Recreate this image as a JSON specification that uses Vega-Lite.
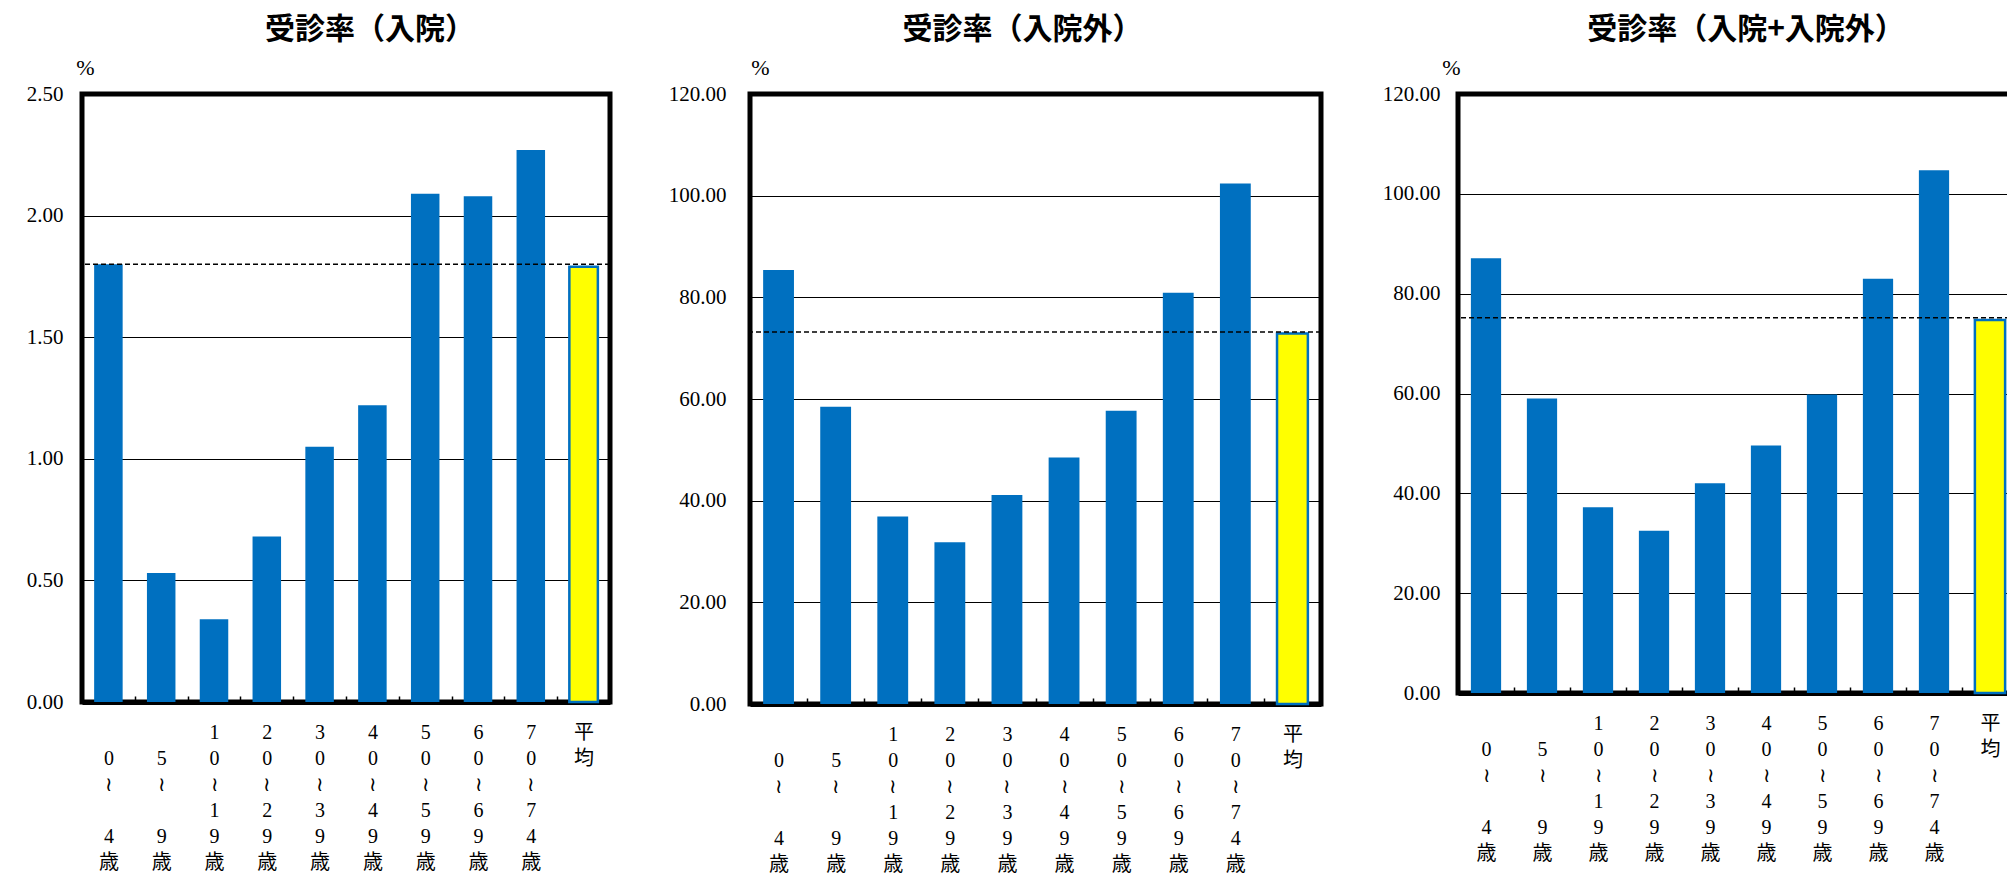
{
  "$schema": "https://vega.github.io/schema/vega-lite/v6.json",
  "background": "white",
  "padding": {"left": 0, "top": 12, "right": 0, "bottom": 0},
  "datasets": {
    "rows": [
      {"panel": "入院", "age": "0～4歳", "value": 1.80},
      {"panel": "入院", "age": "5～9歳", "value": 0.53},
      {"panel": "入院", "age": "10～19歳", "value": 0.34},
      {"panel": "入院", "age": "20～29歳", "value": 0.68},
      {"panel": "入院", "age": "30～39歳", "value": 1.05},
      {"panel": "入院", "age": "40～49歳", "value": 1.22},
      {"panel": "入院", "age": "50～59歳", "value": 2.09},
      {"panel": "入院", "age": "60～69歳", "value": 2.08},
      {"panel": "入院", "age": "70～74歳", "value": 2.27},
      {"panel": "入院", "age": "平均", "value": 1.79},
      {"panel": "入院外", "age": "0～4歳", "value": 85.4},
      {"panel": "入院外", "age": "5～9歳", "value": 58.5},
      {"panel": "入院外", "age": "10～19歳", "value": 36.9},
      {"panel": "入院外", "age": "20～29歳", "value": 31.8},
      {"panel": "入院外", "age": "30～39歳", "value": 41.1},
      {"panel": "入院外", "age": "40～49歳", "value": 48.5},
      {"panel": "入院外", "age": "50～59歳", "value": 57.7},
      {"panel": "入院外", "age": "60～69歳", "value": 80.9},
      {"panel": "入院外", "age": "70～74歳", "value": 102.4},
      {"panel": "入院外", "age": "平均", "value": 72.9},
      {"panel": "入院+入院外", "age": "0～4歳", "value": 87.1},
      {"panel": "入院+入院外", "age": "5～9歳", "value": 59.0},
      {"panel": "入院+入院外", "age": "10～19歳", "value": 37.2},
      {"panel": "入院+入院外", "age": "20～29歳", "value": 32.5},
      {"panel": "入院+入院外", "age": "30～39歳", "value": 42.0},
      {"panel": "入院+入院外", "age": "40～49歳", "value": 49.6},
      {"panel": "入院+入院外", "age": "50～59歳", "value": 59.8},
      {"panel": "入院+入院外", "age": "60～69歳", "value": 83.0},
      {"panel": "入院+入院外", "age": "70～74歳", "value": 104.7},
      {"panel": "入院+入院外", "age": "平均", "value": 74.7}
    ],
    "avgline": [
      {"panel": "入院", "value": 1.80},
      {"panel": "入院外", "value": 73.2},
      {"panel": "入院+入院外", "value": 75.2}
    ]
  },
  "spacing": 41,
  "hconcat": [
    {
      "width": 528,
      "height": 608,
      "title": {"text": "受診率（入院）", "dx": 24},
      "layer": [
        {
          "data": {"name": "rows"},
          "transform": [{"filter": "datum.panel == '入院'"}],
          "mark": {"type": "bar", "stroke": "#0070C0"},
          "encoding": {
            "x": {
              "field": "age", "type": "nominal", "sort": null,
              "scale": {"paddingInner": 0.46, "paddingOuter": 0.23},
              "axis": {"tickOffset": -26.4, "labelOffset": 26.4}
            },
            "y": {
              "field": "value", "type": "quantitative", "title": "%",
              "scale": {"domain": [0, 2.5], "nice": false},
              "axis": {"values": [0, 0.5, 1, 1.5, 2, 2.5], "format": ".2f", "minExtent": 79, "maxExtent": 79, "labelPadding": 19, "titleX": 3}
            },
            "fill": {"condition": {"test": "datum.age == '平均'", "value": "#FFFF00"}, "value": "#0070C0"},
            "strokeWidth": {"condition": {"test": "datum.age == '平均'", "value": 2.5}, "value": 0}
          }
        },
        {
          "data": {"name": "avgline"},
          "transform": [{"filter": "datum.panel == '入院'"}],
          "mark": {"type": "rule", "color": "#000", "strokeDash": [5, 3], "strokeWidth": 1.5},
          "encoding": {"y": {"field": "value", "type": "quantitative", "title": "%"}}
        }
      ]
    },
    {
      "width": 571,
      "height": 610,
      "title": {"text": "受診率（入院外）", "dx": -13},
      "layer": [
        {
          "data": {"name": "rows"},
          "transform": [{"filter": "datum.panel == '入院外'"}],
          "mark": {"type": "bar", "stroke": "#0070C0"},
          "encoding": {
            "x": {
              "field": "age", "type": "nominal", "sort": null,
              "scale": {"paddingInner": 0.46, "paddingOuter": 0.23},
              "axis": {"tickOffset": -28.55, "labelOffset": 28.55}
            },
            "y": {
              "field": "value", "type": "quantitative", "title": "%",
              "scale": {"domain": [0, 120], "nice": false},
              "axis": {"values": [0, 20, 40, 60, 80, 100, 120], "format": ".2f", "minExtent": 92, "maxExtent": 92, "labelPadding": 24, "titleX": 10}
            },
            "fill": {"condition": {"test": "datum.age == '平均'", "value": "#FFFF00"}, "value": "#0070C0"},
            "strokeWidth": {"condition": {"test": "datum.age == '平均'", "value": 2.5}, "value": 0}
          }
        },
        {
          "data": {"name": "avgline"},
          "transform": [{"filter": "datum.panel == '入院外'"}],
          "mark": {"type": "rule", "color": "#000", "strokeDash": [5, 3], "strokeWidth": 1.5},
          "encoding": {"y": {"field": "value", "type": "quantitative", "title": "%"}}
        }
      ]
    },
    {
      "width": 560,
      "height": 599,
      "title": {"text": "受診率（入院+入院外）", "dx": 8},
      "layer": [
        {
          "data": {"name": "rows"},
          "transform": [{"filter": "datum.panel == '入院+入院外'"}],
          "mark": {"type": "bar", "stroke": "#0070C0"},
          "encoding": {
            "x": {
              "field": "age", "type": "nominal", "sort": null,
              "scale": {"paddingInner": 0.46, "paddingOuter": 0.23},
              "axis": {"tickOffset": -28, "labelOffset": 28}
            },
            "y": {
              "field": "value", "type": "quantitative", "title": "%",
              "scale": {"domain": [0, 120], "nice": false},
              "axis": {"values": [0, 20, 40, 60, 80, 100, 120], "format": ".2f", "minExtent": 89, "maxExtent": 89, "labelPadding": 18, "titleX": -7}
            },
            "fill": {"condition": {"test": "datum.age == '平均'", "value": "#FFFF00"}, "value": "#0070C0"},
            "strokeWidth": {"condition": {"test": "datum.age == '平均'", "value": 2.5}, "value": 0}
          }
        },
        {
          "data": {"name": "avgline"},
          "transform": [{"filter": "datum.panel == '入院+入院外'"}],
          "mark": {"type": "rule", "color": "#000", "strokeDash": [5, 3], "strokeWidth": 1.5},
          "encoding": {"y": {"field": "value", "type": "quantitative", "title": "%"}}
        }
      ]
    }
  ],
  "config": {
    "view": {"stroke": "#000", "strokeWidth": 5},
    "title": {"font": "Noto Sans CJK JP", "fontSize": 30, "fontWeight": "bold", "color": "#000", "anchor": "middle", "frame": "group", "offset": 11},
    "axisY": {
      "labelFont": "Liberation Serif, DejaVu Serif, serif", "labelFontSize": 21, "labelColor": "#000",
      "grid": true, "gridColor": "#000", "gridWidth": 1, "gridOpacity": 1,
      "ticks": false, "domain": false,
      "titleFont": "Liberation Serif, DejaVu Serif, serif", "titleFontSize": 22, "titleFontWeight": "normal", "titleColor": "#000",
      "titleAngle": 0, "titleAlign": "center", "titleBaseline": "bottom", "titleY": -15
    },
    "axisX": {
      "title": null,
      "labelFont": "Liberation Serif, DejaVu Serif, Noto Sans CJK JP, serif", "labelFontSize": 20, "labelColor": "#000",
      "labelAngle": 0, "labelAlign": "center", "labelBaseline": "top", "labelLineHeight": 26,
      "labelOverlap": false, "labelPadding": 26,
      "labelExpr": "datum.value == '平均' ? ['平', '均'] : length(datum.value) == 4 ? ['\u200b\u3000\u200b', substring(datum.value, 0, 1), '≀', '\u200b\u3000\u200b', substring(datum.value, 2, 3), '歳'] : [substring(datum.value, 0, 1), substring(datum.value, 1, 2), '≀', substring(datum.value, 3, 4), substring(datum.value, 4, 5), '歳']",
      "ticks": true, "tickSize": -6, "tickColor": "#000", "tickWidth": 1.5,
      "domain": true, "domainColor": "#000", "domainWidth": 5, "zindex": 1,
      "grid": false
    }
  }
}
